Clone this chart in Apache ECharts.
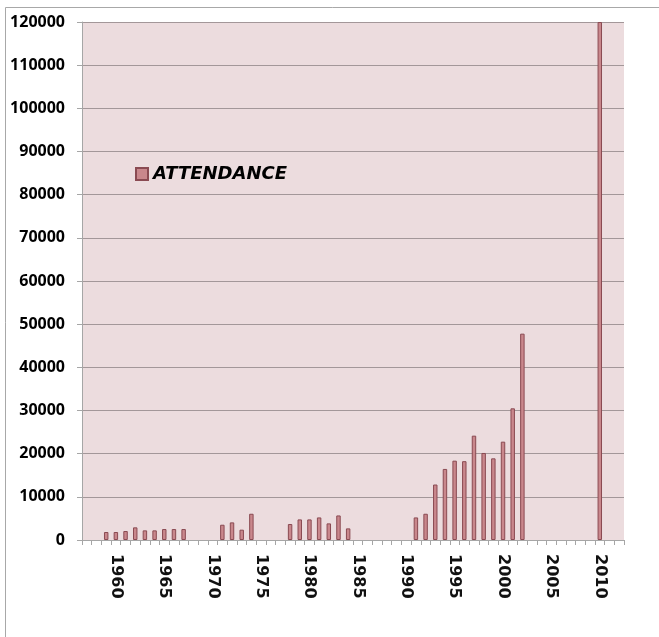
<!DOCTYPE html>
<html>
<head>
<meta charset="utf-8">
<script src="https://cdn.jsdelivr.net/npm/echarts@6/dist/echarts.min.js"></script>
<style>
html,body{margin:0;padding:0;background:#fff;}
#chart{width:659px;height:637px;}
</style>
</head>
<body>
<div id="chart"></div>
<script>
const years = [];
for (let y = 1957; y <= 2012; y++) years.push(String(y));

const attendance = [
  null, null, 1850, 1850, 2080, 2930, 2230, 2230, 2540, 2540,
  2540, null, null, null, 3540, 4080, 2390, 6080, null, null,
  null, 3700, 4770, 4770, 5230, 3850, 5690, 2690, null, null,
  null, null, null, null, 5230, 6080, 12850, 16460, 18380, 18260,
  24170, 20160, 18920, 22780, 30500, 47800, null, null, null, null,
  null, null, null, 120000, null, null
];

const labeledYears = ['1960','1965','1970','1975','1980','1985','1990','1995','2000','2005','2010'];
const seriesName = 'ATTENDANCE';

const chart = echarts.init(document.getElementById('chart'), null, {renderer: 'canvas'});
chart.setOption({
  animation: false,
  backgroundColor: '#ffffff',
  graphic: [{
    type: 'rect',
    shape: {x: 5.5, y: 7.5, width: 700, height: 700},
    style: {fill: 'none', stroke: '#a8a8a8', lineWidth: 1},
    silent: true,
    z: -1
  }],
  grid: {
    left: 82, right: 35, top: 22, bottom: 97,
    show: true, backgroundColor: '#ecdcde', borderWidth: 0
  },
  legend: {
    data: [seriesName],
    left: 130, top: 160,
    icon: 'rect',
    itemWidth: 12, itemHeight: 12,
    itemGap: 10,
    textStyle: {
      fontFamily: 'DejaVu Sans', fontWeight: 'bold', fontStyle: 'italic',
      fontSize: 18, color: '#000'
    }
  },
  xAxis: {
    type: 'category',
    data: years,
    axisLine: {lineStyle: {color: '#a6a6a6', width: 1}},
    axisTick: {show: true, interval: 0, length: 5, lineStyle: {color: '#a6a6a6'}},
    axisLabel: {
      interval: 0,
      rotate: -90,
      margin: 14,
      fontFamily: 'DejaVu Sans',
      fontWeight: 'bold',
      fontSize: 16,
      color: '#111',
      formatter: v => labeledYears.includes(v) ? v : ''
    },
    splitLine: {show: false}
  },
  yAxis: {
    type: 'value',
    min: 0, max: 120000, interval: 10000,
    axisLine: {show: true, lineStyle: {color: '#a6a6a6', width: 1}},
    axisTick: {show: true, length: 5, lineStyle: {color: '#a6a6a6'}},
    axisLabel: {
      margin: 17,
      fontFamily: 'Open Sans', fontWeight: 'bold', fontSize: 16, color: '#000',
      formatter: v => String(v)
    },
    splitLine: {show: true, lineStyle: {color: '#a39799', width: 1}}
  },
  series: [{
    name: seriesName,
    type: 'bar',
    data: attendance,
    barWidth: '46%',
    itemStyle: {color: '#c9878c', borderColor: '#8a4a52', borderWidth: 1}
  }]
});
</script>
</body>
</html>
